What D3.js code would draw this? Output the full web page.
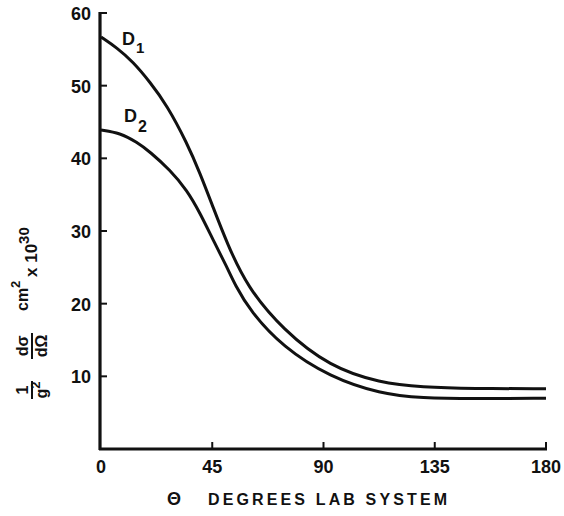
<!DOCTYPE html>
<html>
<head>
<meta charset="utf-8">
<script src="https://cdn.jsdelivr.net/npm/d3@7"></script>
<style>
  body { margin: 0; background: #fff; }
  svg text { font-family: "Liberation Sans", Arial, sans-serif; font-weight: bold; fill: #111; }
</style>
</head>
<body>
<svg class="chart" width="564" height="516"></svg>
<script>
// data (angle in degrees, cross section)
const d1Angles = [0, 6.5, 12.9, 19.8, 26.7, 34.8, 40.0, 45.3, 51.0, 59.1, 73.6, 92.6, 112.9, 130, 150, 180]
const d1Values = [56.7, 55.2, 53.3, 50.5, 47.3, 42.1, 38.0, 33.3, 28.3, 22.3, 16.4, 11.3, 9.1, 8.5, 8.3, 8.3]
const d2Angles = [0, 7.7, 14.6, 19.8, 27.9, 34.8, 40.0, 45.3, 51.0, 54.2, 60.3, 73.6, 92.6, 112.9, 130, 150, 180]
const d2Values = [43.9, 43.5, 42.2, 40.9, 38.4, 35.6, 32.5, 28.8, 25.0, 22.6, 19.0, 14.0, 9.9, 7.6, 7.0, 6.9, 7.0]
const xTicks = [0, 45, 90, 135, 180]
const yTicks = [10, 20, 30, 40, 50, 60]

const svg = d3.select("svg.chart")

const scaleX = d3.scaleLinear().domain([0, 180]).range([101, 546])
const scaleY = d3.scaleLinear().domain([0, 60]).range([449, 13])

// y axis
const axisYGroup = svg.append("g").attr("transform", "translate(100, 0)")
axisYGroup.append("line")
    .attr("x1", 0).attr("x2", 0)
    .attr("y1", scaleY(60) - 1).attr("y2", scaleY(0) + 1)
    .attr("stroke", "#111").attr("stroke-width", 3.2)
axisYGroup.selectAll("line.tick")
    .data(yTicks)
    .enter().append("line")
    .attr("class", "tick")
    .attr("x1", 0).attr("x2", 7)
    .attr("y1", d => scaleY(d)).attr("y2", d => scaleY(d))
    .attr("stroke", "#111").attr("stroke-width", 2)
axisYGroup.selectAll("text")
    .data(yTicks)
    .enter().append("text")
    .attr("x", -9)
    .attr("y", d => scaleY(d) + 7)
    .attr("text-anchor", "end")
    .attr("font-size", "18px")
    .text(d => d)

// x axis
const axisXGroup = svg.append("g").attr("transform", "translate(0, 449)")
axisXGroup.append("line")
    .attr("x1", 99).attr("x2", scaleX(180) + 1)
    .attr("y1", 0).attr("y2", 0)
    .attr("stroke", "#111").attr("stroke-width", 3)
axisXGroup.selectAll("line.tick")
    .data(xTicks.slice(1))
    .enter().append("line")
    .attr("class", "tick")
    .attr("x1", d => scaleX(d)).attr("x2", d => scaleX(d))
    .attr("y1", 0).attr("y2", -7)
    .attr("stroke", "#111").attr("stroke-width", 2)
axisXGroup.selectAll("text")
    .data(xTicks)
    .enter().append("text")
    .attr("x", d => scaleX(d))
    .attr("y", 24)
    .attr("text-anchor", "middle")
    .attr("font-size", "18px")
    .text(d => d)

// curves (basis smooths out the reading noise)
const line = angles => d3.line()
    .x((d, i) => scaleX(angles[i]))
    .y(d => scaleY(d))
    .curve(d3.curveBasis)

svg.append("path").attr("d", line(d1Angles)(d1Values))
    .attr("fill", "none").attr("stroke", "#111").attr("stroke-width", 3)
svg.append("path").attr("d", line(d2Angles)(d2Values))
    .attr("fill", "none").attr("stroke", "#111").attr("stroke-width", 3)

// curve labels
const d1Label = svg.append("text").attr("x", 122).attr("y", 45).attr("font-size", "18px").attr("font-weight", "normal")
d1Label.append("tspan").text("D")
d1Label.append("tspan").attr("dy", 8).attr("dx", 1).attr("font-size", "15px").text("1")
const d2Label = svg.append("text").attr("x", 124).attr("y", 122).attr("font-size", "18px").attr("font-weight", "normal")
d2Label.append("tspan").text("D")
d2Label.append("tspan").attr("dy", 10).attr("dx", 1).attr("font-size", "16px").text("2")

// x label
svg.append("text")
    .attr("x", 174).attr("y", 505)
    .attr("text-anchor", "middle")
    .attr("font-size", "18px")
    .text("Θ")
svg.append("text")
    .attr("x", 208).attr("y", 505)
    .attr("font-size", "16px")
    .attr("textLength", 239)
    .attr("lengthAdjust", "spacing")
    .text("DEGREES  LAB  SYSTEM")

// y label, rotated, with little fractions
const yLabel = svg.append("g").attr("transform", "translate(32, 0) rotate(-90)")
function fraction(cx, top, bottom, w) {
    yLabel.append("text").attr("x", -cx).attr("y", -4).attr("text-anchor", "middle").attr("font-size", "16px").text(top)
    yLabel.append("line").attr("x1", -cx - w / 2).attr("x2", -cx + w / 2).attr("y1", 0).attr("y2", 0)
        .attr("stroke", "#111").attr("stroke-width", 2)
    return yLabel.append("text").attr("x", -cx).attr("y", 15).attr("text-anchor", "middle").attr("font-size", "16px").text(bottom)
}
const g2 = fraction(390, "1", "", 18)
g2.append("tspan").text("g")
g2.append("tspan").attr("dy", -7).attr("font-size", "13px").text("2")
fraction(346, "dσ", "dΩ", 26)
const units = yLabel.append("text").attr("x", -311).attr("y", -4).attr("font-size", "16px")
units.append("tspan").text("cm")
units.append("tspan").attr("dy", -8).attr("font-size", "13px").text("2")
const scale = yLabel.append("text").attr("x", -277).attr("y", 5).attr("font-size", "17px")
scale.append("tspan").text("x 10")
scale.append("tspan").attr("dy", -8).attr("font-size", "15px").text("30")
</script>
</body>
</html>
